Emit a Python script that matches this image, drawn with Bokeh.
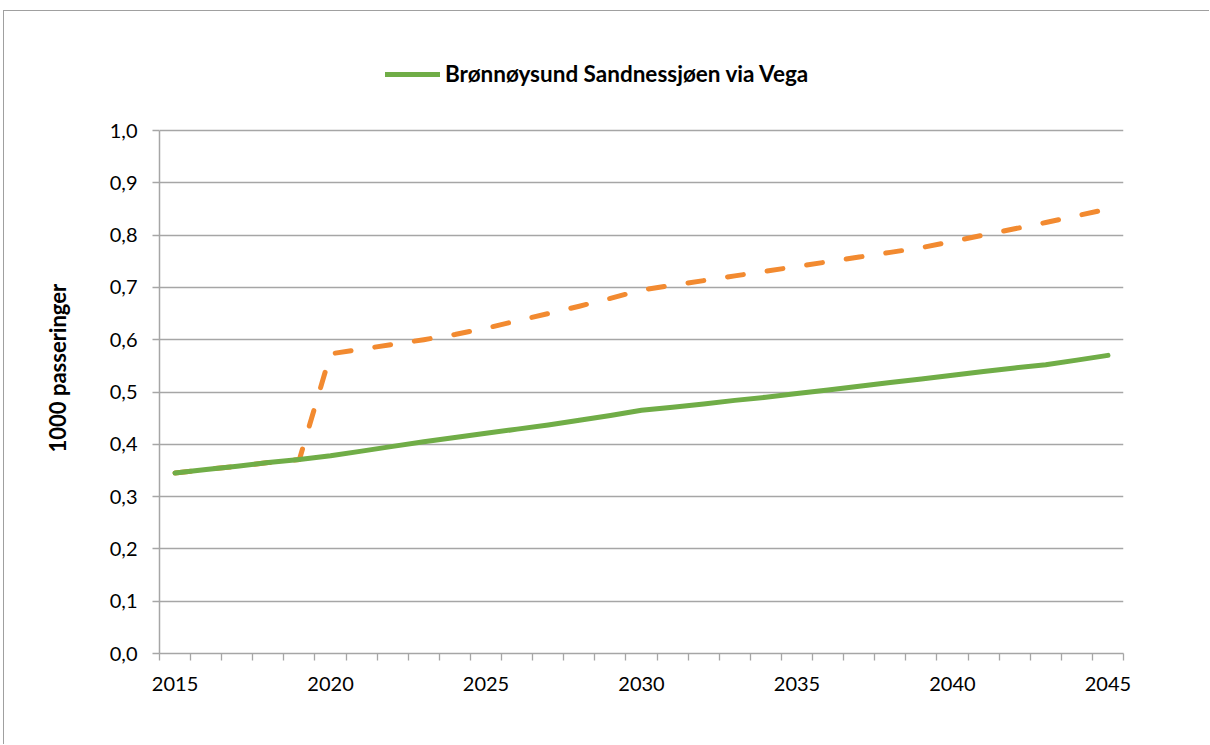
from bokeh.plotting import figure
from bokeh.models import Range1d, FixedTicker, Legend, LegendItem, Title
from bokeh.embed import file_html
from bokeh.resources import INLINE

years = list(range(2015, 2046))
green_values = [0.345, 0.352, 0.358, 0.365, 0.371, 0.378, 0.387, 0.396, 0.405, 0.413,
                0.421, 0.429, 0.437, 0.446, 0.455, 0.465, 0.471, 0.477, 0.484, 0.490,
                0.497, 0.504, 0.511, 0.518, 0.525, 0.532, 0.539, 0.546, 0.552, 0.561,
                0.570]
orange_values = [0.345, 0.352, 0.358, 0.365, 0.371, 0.573, 0.582, 0.591, 0.600, 0.610,
                 0.622, 0.636, 0.650, 0.664, 0.679, 0.695, 0.704, 0.713, 0.722, 0.731,
                 0.740, 0.749, 0.758, 0.767, 0.776, 0.788, 0.800, 0.812, 0.824, 0.837,
                 0.850]
x_labels = [2015, 2020, 2025, 2030, 2035, 2040, 2045]
y_ticks = [round(i * 0.1, 1) for i in range(11)]
legend_label = "Brønnøysund Sandnessjøen via Vega"
y_title = "1000 passeringer"

GRAY = "#A6A6A6"
GREEN = "#70AD47"
ORANGE = "#F28A30"
FONT = "Lato"

PLOT_H = 523          # pixel height of the 0..1 value span
TOP_PAD = 75          # extra frame space above 1.0 that holds the legend

p = figure(frame_width=964, frame_height=PLOT_H + TOP_PAD,
           min_border_left=155, min_border_right=86,
           min_border_top=44, min_border_bottom=91,
           x_range=Range1d(2014.5, 2045.5),
           y_range=Range1d(0, 1 + TOP_PAD / PLOT_H),
           output_backend="svg", toolbar_location=None)
p.styles = {"margin-left": "3px", "margin-top": "10px",
            "border-top": "1px solid #A0A0A0", "border-left": "1px solid #A0A0A0"}
p.outline_line_color = None
p.background_fill_color = "white"
p.border_fill_color = "white"

# x axis
p.xaxis.ticker = FixedTicker(ticks=x_labels,
                             minor_ticks=[y - 0.5 for y in years] + [years[-1] + 0.5])
p.xaxis.major_tick_in = 0
p.xaxis.major_tick_out = 0
p.xaxis.minor_tick_in = 0
p.xaxis.minor_tick_out = 7
p.xaxis.minor_tick_line_color = GRAY
p.xaxis.minor_tick_line_width = 1.3
p.xaxis.axis_line_color = GRAY
p.xaxis.axis_line_width = 1.5
p.xaxis.major_label_text_font = FONT
p.xaxis.major_label_text_font_size = "20px"
p.xaxis.major_label_text_color = "#000000"
p.xaxis.major_label_standoff = 16
p.xgrid.visible = False

# y axis
p.yaxis.ticker = FixedTicker(ticks=y_ticks)
p.yaxis.bounds = (0, 1)
p.yaxis.major_label_overrides = {t: f"{t:.1f}".replace(".", ",") for t in y_ticks}
p.yaxis.major_tick_in = 0
p.yaxis.major_tick_out = 7
p.yaxis.major_tick_line_color = GRAY
p.yaxis.major_tick_line_width = 1.3
p.yaxis.minor_tick_line_color = None
p.yaxis.axis_line_color = GRAY
p.yaxis.axis_line_width = 1.5
p.yaxis.major_label_text_font = FONT
p.yaxis.major_label_text_font_size = "20px"
p.yaxis.major_label_text_color = "#000000"
p.yaxis.major_label_standoff = 15
p.ygrid.ticker = FixedTicker(ticks=y_ticks)
p.ygrid.grid_line_color = GRAY
p.ygrid.grid_line_width = 1.5

# y-axis title as a left-side title, placed to match the reference
ytitle = Title(text=y_title, align="left", vertical_align="middle",
               offset=201, standoff=70,
               text_font=FONT, text_font_size="22px", text_font_style="bold",
               text_color="#000000")
p.add_layout(ytitle, "left")

# series
r_orange = p.line(years, orange_values, line_color=ORANGE, line_width=5,
                  line_dash="16 24", line_cap="round", line_join="round")
r_green = p.line(years, green_values, line_color=GREEN, line_width=5,
                 line_cap="round", line_join="round")

legend = Legend(items=[LegendItem(label=legend_label, renderers=[r_green])],
                location=(226, 566), orientation="horizontal",
                glyph_width=55, glyph_height=20, label_standoff=5,
                padding=0, margin=0, spacing=0,
                border_line_color=None, background_fill_alpha=0,
                label_text_font=FONT, label_text_font_size="22.5px",
                label_text_font_style="bold", label_text_color="#000000")
p.add_layout(legend, "center")

open("out.html", "w").write(file_html(p, INLINE))
